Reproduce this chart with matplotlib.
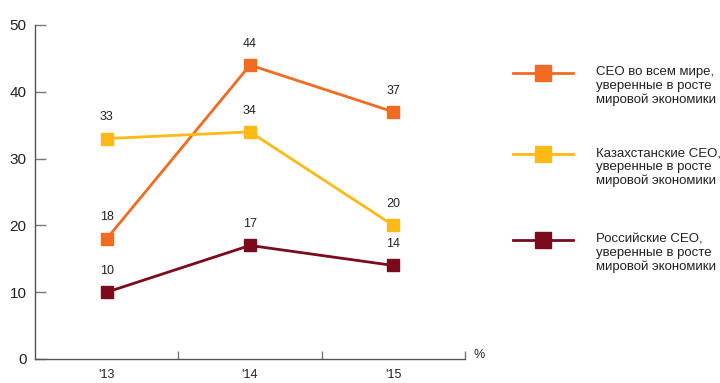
import matplotlib
matplotlib.use("Agg")
import matplotlib.pyplot as plt
from matplotlib.lines import Line2D

plt.rcParams['font.family'] = ['Liberation Sans', 'DejaVu Sans']

categories = ["'13", "'14", "'15"]
world = [18, 44, 37]
kazakh = [33, 34, 20]
russia = [10, 17, 14]
series_labels = [
    "CEO во всем мире,\nуверенные в росте\nмировой экономики",
    "Казахстанские CEO,\nуверенные в росте\nмировой экономики",
    "Российские CEO,\nуверенные в росте\nмировой экономики",
]
colors = ["#F26B21", "#FDBA12", "#7A0A1C"]
yticks = [0, 10, 20, 30, 40, 50]

fig = plt.figure(figsize=(7.2, 3.83), dpi=100)
ax = fig.add_axes([35/720, 1-359/383, 430/720, 334/383])

x = list(range(len(categories)))
for vals, c in zip([world, kazakh, russia], colors):
    ax.plot(x, vals, color=c, lw=2.0, marker='s', markersize=8.5,
            markerfacecolor=c, markeredgecolor=c, zorder=3, clip_on=False)
    for xi, v in zip(x, vals):
        ax.annotate(str(v), (xi, v), xytext=(0, 11), textcoords='offset points',
                    ha='center', va='bottom', fontsize=9, color='#222222')

ax.set_xlim(-0.5, len(categories) - 0.5)
ax.set_ylim(0, 50)
ax.set_yticks(yticks)
ax.set_xticks(x)
ax.set_xticklabels(categories)
ax.set_xticks([0.5, 1.5, 2.5], minor=True)
ax.tick_params(axis='x', which='major', length=0, pad=7, labelsize=9, labelcolor='#222222')
ax.tick_params(axis='x', which='minor', direction='in', length=6, color='#777777', width=1)
ax.tick_params(axis='y', direction='in', length=8, color='#777777', width=1,
               pad=6, labelsize=11, labelcolor='#222222')
for s in ['top', 'right']:
    ax.spines[s].set_visible(False)
for s in ['left', 'bottom']:
    ax.spines[s].set_color('#555555')
    ax.spines[s].set_linewidth(1)
ax.text(1.02, -0.005, '%', transform=ax.transAxes, fontsize=9, color='#222222',
        ha='left', va='bottom')

# legend drawn manually
lax = fig.add_axes([0, 0, 1, 1])
lax.set_xlim(0, 720)
lax.set_ylim(383, 0)
lax.axis('off')
rows = [73, 154, 240]
for lab, c, yy in zip(series_labels, colors, rows):
    lax.add_line(Line2D([513, 573], [yy, yy], color=c, lw=2.0))
    lax.add_line(Line2D([543], [yy], color=c, marker='s', markersize=11,
                        markerfacecolor=c, markeredgecolor=c))
    lax.text(596, yy - 7, lab, fontsize=9.5, color='#222222', ha='left', va='top',
             linespacing=1.2)

fig.savefig('out.png', dpi=100)
